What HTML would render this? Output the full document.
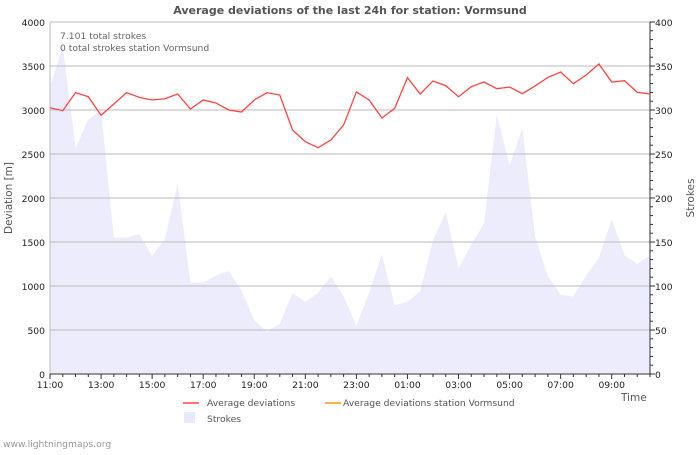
<!DOCTYPE html>
<html><head><meta charset="utf-8"><style>
body{margin:0;background:#fff;width:700px;height:450px;overflow:hidden}
svg{font-family:"DejaVu Sans","Liberation Sans",sans-serif}
</style></head><body>
<svg width="700" height="450" id="c">
<text x="350" y="14" text-anchor="middle" font-size="11" font-weight="bold" fill="#555">Average deviations of the last 24h for station: Vormsund</text>
<g id="plot"></g>
<text x="60" y="39" font-size="9.2" fill="#666">7.101 total strokes</text>
<text x="60" y="51" font-size="9.2" fill="#666">0 total strokes station Vormsund</text>
<text transform="translate(12,198) rotate(-90)" text-anchor="middle" font-size="10.5" fill="#555">Deviation  [m]</text>
<text transform="translate(694,198) rotate(-90)" text-anchor="middle" font-size="10.5" fill="#555">Strokes</text>
<text x="621" y="401" font-size="10.5" fill="#555">Time</text>
<g font-size="9.2" fill="#555">
<line x1="183" y1="403" x2="199" y2="403" stroke="#f44" stroke-width="1.5"/>
<text x="207" y="406">Average deviations</text>
<line x1="325" y1="403" x2="341" y2="403" stroke="#f90" stroke-width="1.5"/>
<text x="343" y="406">Average deviations station Vormsund</text>
<rect x="184" y="412" width="11" height="11" fill="#e9e9fc"/>
<text x="207" y="422">Strokes</text>
</g>
<text x="3" y="447" font-size="9.2" fill="#999">www.lightningmaps.org</text>
</svg>
<script>
const deviations=[3026,2992,3197,3151,2940,3068,3197,3144,3114,3128,3182,3011,3114,3080,3000,2977,3114,3197,3170,2773,2640,2572,2659,2830,3205,3114,2909,3019,3367,3182,3330,3276,3151,3265,3318,3242,3261,3185,3273,3370,3432,3299,3398,3523,3318,3333,3201,3182];
const strokes=[326,372,257,289,300,155,155,159,134,154,216,104,104,112,117,95,61,48,57,92,82,92,111,88,55,92,136,78,82,94,152,184,120,147,171,295,237,279,156,111,90,88,112,132,176,135,125,135];
const yTicks=[0,500,1000,1500,2000,2500,3000,3500,4000];
const y2Ticks=[0,50,100,150,200,250,300,350,400];
const xLabels=["11:00","13:00","15:00","17:00","19:00","21:00","23:00","01:00","03:00","05:00","07:00","09:00"];
const L=50,R=650,T=22,B=374,N=deviations.length;
const xs=i=>L+(R-L)*i/(N-1);
const ys=v=>B-(B-T)*v/4000;
const y2s=v=>B-(B-T)*v/400;
const NS="http://www.w3.org/2000/svg",g=document.getElementById('plot');
function mk(t,a){const e=document.createElementNS(NS,t);for(const k in a)e.setAttribute(k,a[k]);g.appendChild(e);return e;}
let d=`M${L},${B}`;strokes.forEach((v,i)=>d+=` L${xs(i)},${y2s(v)}`);d+=` L${R},${B} Z`;
let a=mk('path',{d:d,fill:'#ececfc'});


yTicks.forEach(v=>{const y=ys(v);
 if(v>0){let l=mk('line',{x1:L,x2:R,y1:y,y2:y,stroke:'#bbb','stroke-width':1});
 
 }
 let t=mk('text',{x:L-5,y:y+4,'text-anchor':'end','font-size':'9.2',fill:'#222'});t.textContent=v;
 
 });
y2Ticks.forEach(v=>{let t=mk('text',{x:R+5,y:y2s(v)+4,'font-size':'9.2',fill:'#222'});t.textContent=v;
 
 });
for(let s=0;s<=400;s+=10){const y=y2s(s);mk('line',{x1:R,x2:R+(s%50?3:5),y1:y,y2:y,stroke:'#333'});}
mk('line',{x1:L,x2:L,y1:T,y2:B,stroke:'#bbb'});
mk('line',{x1:R,x2:R,y1:T,y2:B,stroke:'#333'});
mk('line',{x1:L,x2:R,y1:B,y2:B,stroke:'#333'});
for(let i=0;i<N;i++){mk('line',{x1:xs(i),x2:xs(i),y1:B,y2:B+(i%4?3:5),stroke:'#333'});}
xLabels.forEach((s,k)=>{let t=mk('text',{x:xs(k*4),y:B+14,'text-anchor':'middle','font-size':'9.2',fill:'#222'});t.textContent=s;
 
 });
let p=mk('polyline',{points:deviations.map((v,i)=>xs(i)+','+ys(v)).join(' '),fill:'none',stroke:'#f44','stroke-width':1.3});


</script>
</body></html>
